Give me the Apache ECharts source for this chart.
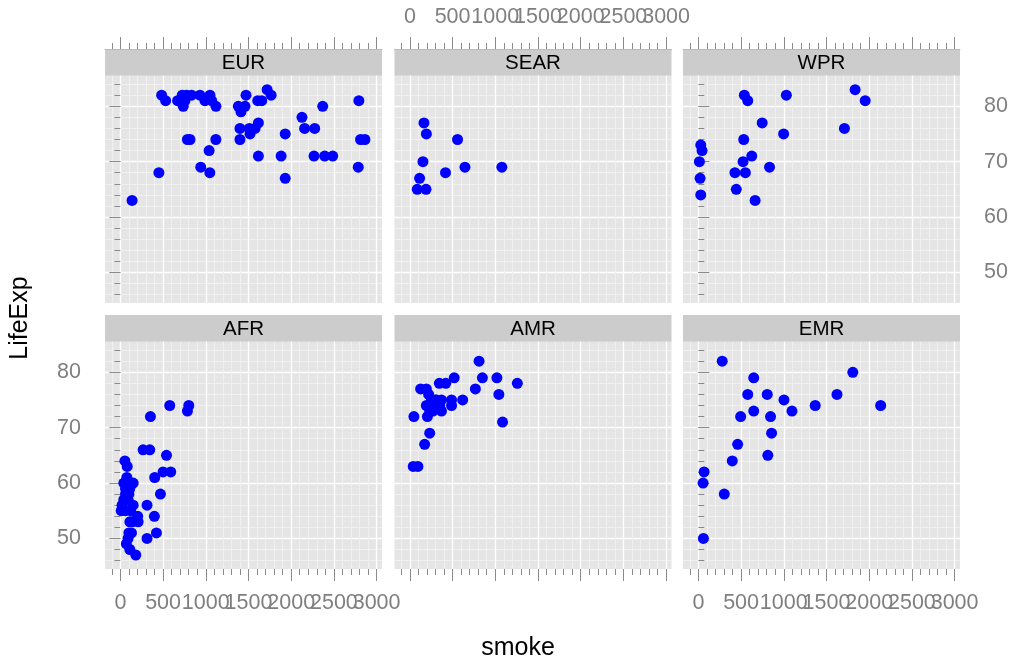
<!DOCTYPE html>
<html><head><meta charset="utf-8">
<script src="https://cdn.jsdelivr.net/npm/echarts@6/dist/echarts.min.js"></script>
<style>html,body{margin:0;padding:0;background:#fff}#c{width:1014px;height:661px}</style>
</head><body><div id="c"></div>
<script>
// ---- data: [smoke, LifeExp] per region ----
const AFR = [[578,74],[801,74],[785,73],[352,72],[266,66],[344,66],[540,65],[500,62],[590,62],[402,61],[53,64],[80,63],[76,61],[40,60],[90,60],[150,60],[110,59],[60,58],[100,58],[469,58],[40,57],[90,57],[20,56],[150,56],[312,56],[10,55],[60,55],[120,55],[203,54],[398,54],[111,53],[208,53],[140,53],[422,51],[100,51],[130,51],[90,50],[312,50],[70,49],[111,48],[181,47],[60,59]];
const AMR = [[810,82],[519,79],[849,79],[1019,79],[1258,78],[345,78],[420,78],[126,77],[193,77],[767,77],[1042,76],[220,76],[252,75],[311,75],[370,75],[488,75],[618,75],[193,74],[350,74],[488,74],[232,73],[370,73],[47,72],[205,72],[1085,71],[232,69],[173,67],[39,63],[94,63],[280,74],[300,75],[270,73]];
const EMR = [[279,82],[1808,80],[648,79],[578,76],[806,76],[1623,76],[1002,75],[1368,74],[2134,74],[648,73],[1096,73],[495,72],[845,72],[857,69],[460,67],[813,65],[397,64],[67,62],[55,60],[303,58],[59,50]];
const EUR = [[483,82],[530,81],[670,81],[724,82],[776,82],[756,81],[736,80],[834,82],[932,82],[990,81],[1049,82],[1069,81],[1119,80],[1381,80],[1412,79],[1459,80],[1471,82],[1608,81],[1655,81],[1718,83],[1765,82],[785,74],[815,74],[1118,74],[1039,72],[941,69],[1047,68],[451,68],[137,63],[1400,76],[1510,76],[1518,75],[1577,76],[1616,77],[1400,74],[1616,71],[1882,71],[1930,75],[1930,67],[2126,78],[2157,76],[2275,76],[2369,80],[2267,71],[2392,71],[2486,71],[2792,81],[2785,69],[2812,74],[2863,74]];
const SEAR = [[165,77],[193,75],[558,74],[153,70],[114,67],[86,65],[189,65],[417,68],[645,69],[1077,69]];
const WPR = [[538,82],[578,81],[1030,82],[1835,83],[1953,81],[747,77],[998,75],[1710,76],[531,74],[28,73],[43,72],[625,71],[12,70],[523,70],[833,69],[428,68],[550,68],[20,67],[444,65],[28,64],[664,63]];

const panelNames = ['AFR','AMR','EMR','EUR','SEAR','WPR'];
const panelData = [AFR, AMR, EMR, EUR, SEAR, WPR];

const xMajorTicks = [0,500,1000,1500,2000,2500,3000];
const xLabelsA = [0,1000,2000,3000];
const xLabelsB = [500,1500,2500];
const xMinorTicks = [-100,0,100,200,300,400,500,600,700,800,900,1000,1100,1200,1300,1400,1500,1600,1700,1800,1900,2000,2100,2200,2300,2400,2500,2600,2700,2800,2900,3000];
const yMajorTicks = [50,60,70,80];
const yMinorTicks = [46,48,50,52,54,56,58,60,62,64,66,68,70,72,74,76,78,80,82,84];

const XMIN = -180, XMAX = 3063, YMIN = 44.48, YMAX = 85.52;

// ---- layout ----
const colLeft = [105, 394.5, 683];
const W = 277;
const stripTop = [49, 315];
const SH = 26.7;
const H = 227.3;
const FONT = '"Liberation Sans", Arial, sans-serif';
const TICK = '#8a8a8a';
const LAB = '#7f7f7f';
const FS = 21.5;
const plain = v => String(v);

const grids = [], xAxes = [], yAxes = [], series = [], graphics = [];

panelData.forEach((d, i) => {
  const row = i < 3 ? 1 : 0;
  const col = i % 3;
  grids.push({left: colLeft[col], top: stripTop[row] + SH, width: W, height: H,
    show: true, backgroundColor: '#E5E5E5', borderWidth: 0, containLabel: false, outerBoundsMode: 'none'});
  const xPos = row === 0 ? 'top' : 'bottom';
  const xOff = row === 0 ? SH : 0;
  const xLab = (row === 0 && col === 1) || (row === 1 && col !== 1);
  const xLabStyle = {formatter: plain, showMinLabel: true, showMaxLabel: true, hideOverlap: false,
    margin: row === 0 ? 21 : 23, color: LAB, fontSize: FS, fontFamily: FONT};
  xAxes.push({type: 'value', gridIndex: i, min: XMIN, max: XMAX, position: xPos, offset: xOff,
    axisLine: {show: false},
    axisTick: {show: true, customValues: xMinorTicks, length: 6, lineStyle: {color: TICK, width: 1}},
    axisLabel: Object.assign({show: xLab, customValues: xLabelsB}, xLabStyle),
    splitLine: {show: true, lineStyle: {color: '#F0F0F0', width: 1}}});
  xAxes.push({type: 'value', gridIndex: i, min: XMIN, max: XMAX, position: xPos, offset: xOff,
    axisLine: {show: row === 0, lineStyle: {color: '#BBBBBB', width: 1}},
    axisTick: {show: true, customValues: xMajorTicks, length: 12, lineStyle: {color: TICK, width: 1}},
    axisLabel: Object.assign({show: xLab, customValues: xLabelsA}, xLabStyle),
    splitLine: {show: true, lineStyle: {color: '#FFFFFF', width: 1.3}}});
  const yPos = col === 2 ? 'right' : 'left';
  const yTicks = col !== 1;
  const yLab = (col === 0 && row === 1) || (col === 2 && row === 0);
  yAxes.push({type: 'value', gridIndex: i, min: YMIN, max: YMAX, position: yPos,
    axisLine: {show: false},
    axisTick: {show: yTicks, customValues: yMinorTicks, length: 6, lineStyle: {color: TICK, width: 1}},
    axisLabel: {show: false},
    splitLine: {show: true, lineStyle: {color: '#F0F0F0', width: 1}}});
  yAxes.push({type: 'value', gridIndex: i, min: YMIN, max: YMAX, position: yPos,
    axisLine: {show: false},
    axisTick: {show: yTicks, customValues: yMajorTicks, length: 11, lineStyle: {color: TICK, width: 1}},
    axisLabel: {show: yLab, customValues: yMajorTicks, formatter: plain, showMinLabel: true, showMaxLabel: true,
      margin: 24, color: LAB, fontSize: FS, fontFamily: FONT},
    splitLine: {show: true, lineStyle: {color: '#FFFFFF', width: 1.3}}});
  series.push({type: 'scatter', name: panelNames[i], xAxisIndex: 2 * i, yAxisIndex: 2 * i,
    data: d, symbol: 'circle', symbolSize: 11, itemStyle: {color: '#0000FF', opacity: 1}, z: 5});
  graphics.push({type: 'rect', left: colLeft[col], top: stripTop[row],
    shape: {width: W, height: SH}, style: {fill: '#CCCCCC'}, silent: true});
  graphics.push({type: 'text', x: colLeft[col] + W / 2, y: stripTop[row] + SH / 2 + 1,
    style: {text: panelNames[i], fill: '#000', font: '20.5px ' + FONT, align: 'center', verticalAlign: 'middle'}, silent: true});
});

graphics.push({type: 'text', x: 20, y: 318, rotation: Math.PI / 2,
  style: {text: 'LifeExp', fill: '#000', font: '25px ' + FONT, align: 'center', verticalAlign: 'middle'}});
graphics.push({type: 'text', x: 518, y: 648,
  style: {text: 'smoke', fill: '#000', font: '25px ' + FONT, align: 'center', verticalAlign: 'middle'}});

const chart = echarts.init(document.getElementById('c'), null, {renderer: 'canvas'});
chart.setOption({
  animation: false,
  backgroundColor: '#FFFFFF',
  grid: grids, xAxis: xAxes, yAxis: yAxes, series: series, graphic: graphics
});
</script></body></html>
